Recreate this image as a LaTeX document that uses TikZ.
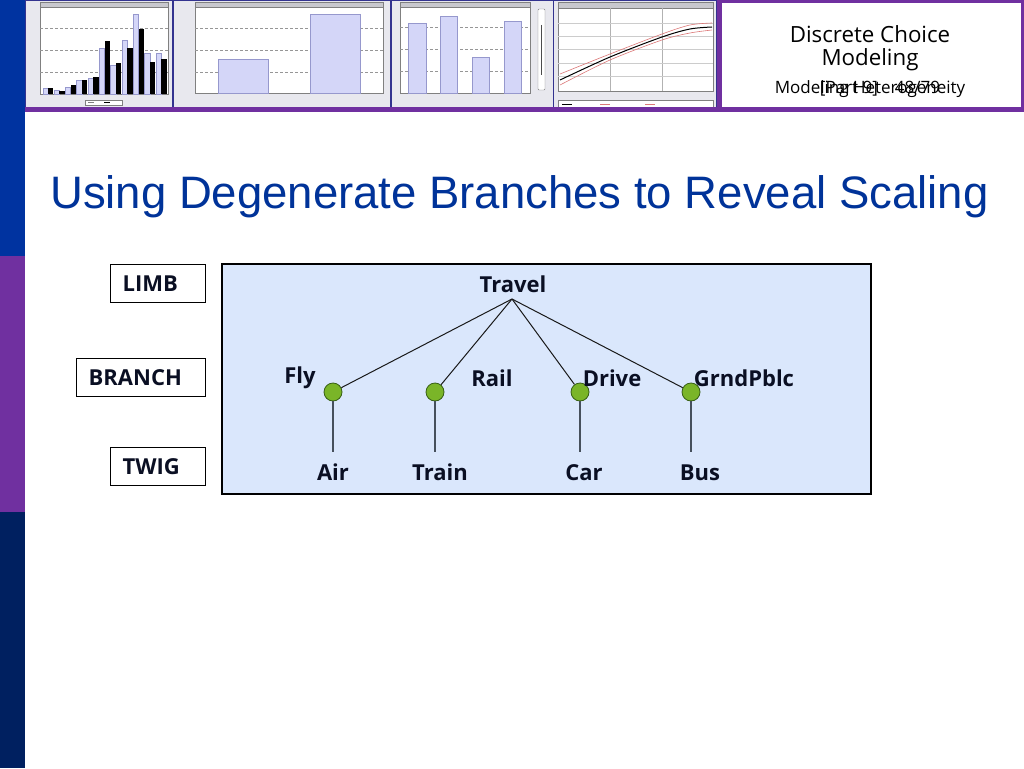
\documentclass[tikz,border=0pt]{standalone}
\usepackage{fontspec}
\setmainfont{Open Sans}
\newfontfamily\titlefont{Liberation Sans}
\definecolor{barblue}{RGB}{0,51,160}
\definecolor{barpurple}{RGB}{112,48,160}
\definecolor{barnavy}{RGB}{0,32,96}
\definecolor{titleblue}{RGB}{0,51,153}
\definecolor{boxblue}{RGB}{218,231,252}
\definecolor{dotgreen}{RGB}{122,181,40}
\definecolor{dotedge}{RGB}{55,95,20}
\definecolor{panelgray}{RGB}{232,232,238}
\definecolor{titlebar}{RGB}{200,200,206}
\definecolor{lightbar}{RGB}{212,214,248}
\definecolor{lightbaredge}{RGB}{150,152,205}
\definecolor{gridgray}{RGB}{150,150,150}
\definecolor{curvered}{RGB}{220,120,120}
\definecolor{twiggray}{RGB}{70,80,92}
\definecolor{labeltext}{RGB}{10,15,35}
\tikzset{
  lvlbox/.style={draw=black, line width=1.3pt, fill=white, font=\bfseries\fontsize{22}{26}\selectfont,
    text=labeltext, align=left, inner xsep=12pt, inner ysep=0pt, minimum height=38pt, anchor=north west},
  lbl/.style={font=\bfseries\fontsize{22}{26}\selectfont, text=labeltext, inner sep=0pt, anchor=base},
  dot/.style={circle, fill=dotgreen, draw=dotedge, line width=0.8pt, minimum size=18pt, inner sep=0pt},
  branchline/.style={draw=black!90, line width=1pt},
  twigline/.style={draw=twiggray, line width=1.1pt},
  panel/.style={fill=panelgray, draw=black!40!blue!60!gray, line width=0.6pt},
  plotarea/.style={fill=white, draw=gray, line width=0.4pt},
  tbar/.style={fill=titlebar, draw=gray, line width=0.3pt},
  grid/.style={draw=gridgray, dashed, dash pattern=on 3pt off 2pt, line width=0.5pt},
  lbar/.style={fill=lightbar, draw=lightbaredge, line width=0.4pt},
  kbar/.style={fill=black},
  hdrtext/.style={font=\fontsize{22.3}{26}\selectfont, inner sep=0pt, anchor=base},
  hdrsmall/.style={font=\fontsize{17}{20}\selectfont, inner sep=0pt, anchor=base}
}
\begin{document}
\begin{tikzpicture}[x=1pt,y=-1pt]
\useasboundingbox (0,0) rectangle (1024,768);
\fill[white] (0,0) rectangle (1024,768);
% left colour bar
\fill[barblue] (0,0) rectangle (25,256);
\fill[barpurple] (0,256) rectangle (25,512);
\fill[barnavy] (0,512) rectangle (25,768);
% header strip background
\fill[panelgray] (25,0) rectangle (717,107);
% ---- chart 1 ----
\draw[panel] (25,0) rectangle (172,107);
\draw[plotarea] (40,7) rectangle (168,94);
\draw[tbar] (40,2) rectangle (168,7);
\foreach \yy in {28,50,72} \draw[grid] (40,\yy) -- (168,\yy);
\foreach \i/\lt/\kt in {0/88.3/87.7,1/90/90.7,2/86.7/85.3,3/80/80,4/78.3/77.3,5/48.3/40.7,6/65/63.3,7/40/48.3,8/14/29,9/53.3/62.3,10/53.3/59.3}{
  \draw[lbar] ({42.7+11.33*\i},\lt) rectangle ({48+11.33*\i},94);
  \fill[kbar] ({48+11.33*\i},\kt) rectangle ({53.3+11.33*\i},94);
}
\draw[fill=white, draw=gray, line width=0.3pt] (85,100) rectangle (122,105);
\draw[black, line width=1pt] (104,102.5) -- (110,102.5);
\draw[gray, line width=0.6pt] (88,102.5) -- (94,102.5);
% ---- chart 2 ----
\draw[panel] (173,0) rectangle (390,107);
\draw[plotarea] (195,7) rectangle (383,93);
\draw[tbar] (195,2) rectangle (383,7);
\foreach \yy in {28,50,72} \draw[grid] (195,\yy) -- (383,\yy);
\draw[lbar] (218,59) rectangle (268,93);
\draw[lbar] (310,14) rectangle (360,93);
% ---- chart 3 ----
\draw[panel] (391,0) rectangle (553,107);
\draw[plotarea] (400,7) rectangle (530,93);
\draw[tbar] (400,2) rectangle (530,7);
\foreach \yy in {27,49,71} \draw[grid] (400,\yy) -- (530,\yy);
\draw[lbar] (408,23) rectangle (426,93);
\draw[lbar] (440,16) rectangle (457,93);
\draw[lbar] (472,57) rectangle (489,93);
\draw[lbar] (504,21) rectangle (521,93);
\draw[fill=white, draw=gray, rounded corners=1pt, line width=0.4pt] (538,9) rectangle (545,90);
\draw[black!70, line width=1pt] (541.5,25) -- (541.5,75);
% ---- chart 4 ----
\draw[panel] (553,0) rectangle (716,107);
\draw[plotarea] (558,7) rectangle (713,91);
\draw[tbar] (558,2) rectangle (713,8);
\foreach \xx in {610,662} \draw[gray!60, line width=0.5pt] (\xx,8) -- (\xx,91);
\foreach \yy in {23,36,49,63,76} \draw[gray!40, line width=0.5pt] (558,\yy) -- (713,\yy);
\draw[curvered, line width=0.6pt] plot[smooth] coordinates {(560,74) (610,54) (662,34) (690,25) (712,23)};
\draw[curvered, line width=0.6pt] plot[smooth] coordinates {(560,85) (610,60) (662,40) (690,33) (712,30)};
\draw[black, line width=1pt] plot[smooth] coordinates {(560,80) (610,57) (662,37) (690,29) (712,27)};
\draw[fill=white, draw=gray, line width=0.3pt] (558,100) rectangle (713,108);
\draw[black, line width=0.6pt] (562,104) -- (572,104);
\draw[curvered, line width=0.6pt] (600,104) -- (610,104);
\draw[curvered, line width=0.6pt] (645,104) -- (655,104);
% header purple line and box
\fill[barpurple] (25,107) rectangle (1024,112);
\fill[barpurple] (717,0) rectangle (1024,112);
\fill[white] (722,3) rectangle (1021,107);
\node[hdrtext] (h1) at (870,43) {Discrete Choice};
\node[hdrtext] (h2) at (870,66) {Modeling};
\node[hdrsmall] (h3) at (870,93) {Modeling Heterogeneity};
\node[hdrsmall] (h4) at (880,93) {[Part 9]\quad 48/79};
% title
\node[font=\titlefont\fontsize{45.5}{54}\selectfont, text=titleblue, anchor=base west, inner sep=0pt] (title) at (50,208) {Using Degenerate Branches to Reveal Scaling};
% level boxes
\node[lvlbox, minimum width=95pt, text width=71pt] (limb) at (110,264) {LIMB};
\node[lvlbox, minimum width=129pt, text width=105pt] (branch) at (76,358) {BRANCH};
\node[lvlbox, minimum width=95pt, text width=71pt] (twig) at (110,447) {TWIG};
% main box
\draw[fill=boxblue, draw=black, line width=2.5pt] (222,264) rectangle (871,494);
% tree
\node[lbl] (travel) at (513,292) {Travel};
\coordinate (root) at (512,299);
\node[dot] (fly) at (333,392) {};
\node[dot] (rail) at (435,392) {};
\node[dot] (drive) at (580,392) {};
\node[dot] (grnd) at (691,392) {};
\draw[branchline] (root) -- (fly);
\draw[branchline] (root) -- (rail);
\draw[branchline] (root) -- (drive);
\draw[branchline] (root) -- (grnd);
\coordinate (ea) at (333,452);
\coordinate (et) at (435,452);
\coordinate (ec) at (580,452);
\coordinate (eb) at (691,452);
\draw[twigline] (fly) -- (ea);
\draw[twigline] (rail) -- (et);
\draw[twigline] (drive) -- (ec);
\draw[twigline] (grnd) -- (eb);
\node[lbl] (lfly) at (300,383) {Fly};
\node[lbl] (lrail) at (492,386) {Rail};
\node[lbl] (ldrive) at (612,386) {Drive};
\node[lbl] (lgrnd) at (744,386) {GrndPblc};
\node[lbl] (air) at (333,480) {Air};
\node[lbl] (train) at (440,480) {Train};
\node[lbl] (car) at (584,480) {Car};
\node[lbl] (bus) at (700,480) {Bus};
\end{tikzpicture}
\end{document}
